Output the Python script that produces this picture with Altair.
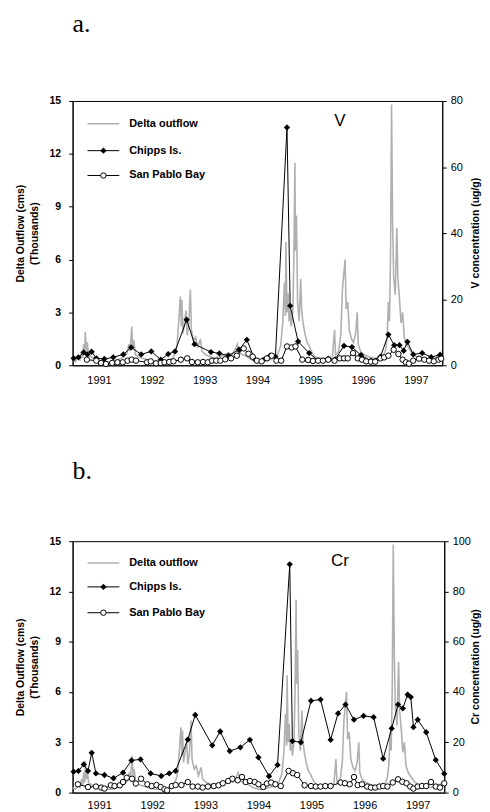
import altair as alt
import pandas as pd

FONT_N = "Liberation Sans, Arial, sans-serif"
FONT_S = "Liberation Serif, Times New Roman, serif"

year_ticks = [1991.5, 1992.5, 1993.5, 1994.5, 1995.5, 1996.5, 1997.5]
flow_ticks = [0, 3, 6, 9, 12, 15]
v_ticks = [0, 20, 40, 60, 80]
cr_ticks = [0, 20, 40, 60, 80, 100]
legend_labels = ["Delta outflow", "Chipps Is.", "San Pablo Bay"]

# Delta outflow (thousand cms), decimal year
flow_t = [1991.00, 1991.05, 1991.10, 1991.14, 1991.17, 1991.19, 1991.21, 1991.23, 1991.24, 1991.26,
          1991.28, 1991.30, 1991.34, 1991.40, 1991.47, 1991.55, 1991.65, 1991.75, 1991.85, 1991.92,
          1991.98, 1992.03, 1992.07, 1992.09, 1992.12, 1992.14, 1992.16, 1992.19, 1992.24, 1992.32,
          1992.42, 1992.55, 1992.68, 1992.80, 1992.90, 1992.95, 1992.98, 1993.01, 1993.04, 1993.06,
          1993.07, 1993.09, 1993.12, 1993.15, 1993.17, 1993.20, 1993.23, 1993.25, 1993.29, 1993.33,
          1993.37, 1993.42, 1993.45, 1993.52, 1993.60, 1993.70, 1993.80, 1993.88, 1993.95, 1994.02,
          1994.08, 1994.12, 1994.16, 1994.22, 1994.30, 1994.40, 1994.50, 1994.60, 1994.70, 1994.80,
          1994.88, 1994.94, 1994.98, 1995.01, 1995.03, 1995.04, 1995.06, 1995.08, 1995.10, 1995.12,
          1995.14, 1995.17, 1995.19, 1995.21, 1995.22, 1995.24, 1995.26, 1995.29, 1995.32, 1995.34,
          1995.37, 1995.40, 1995.44, 1995.48, 1995.52, 1995.58, 1995.66, 1995.75, 1995.85, 1995.92,
          1995.96, 1995.98, 1996.04, 1996.08, 1996.11, 1996.13, 1996.16, 1996.18, 1996.21, 1996.24,
          1996.28, 1996.32, 1996.36, 1996.39, 1996.41, 1996.45, 1996.52, 1996.60, 1996.70, 1996.80,
          1996.88, 1996.93, 1996.96, 1996.98, 1997.00, 1997.02, 1997.04, 1997.06, 1997.08, 1997.11,
          1997.14, 1997.16, 1997.19, 1997.22, 1997.25, 1997.28, 1997.32, 1997.38, 1997.45, 1997.55,
          1997.65, 1997.75, 1997.85, 1997.92, 1997.98]
flow_q = [0.3, 0.2, 0.4, 0.3, 0.8, 0.4, 1.2, 0.6, 1.9, 0.8,
          1.3, 0.6, 0.5, 0.4, 0.3, 0.2, 0.2, 0.2, 0.3, 0.4,
          0.5, 0.7, 1.2, 0.8, 2.2, 1.0, 1.4, 0.6, 0.5, 0.4,
          0.3, 0.2, 0.2, 0.3, 0.4, 0.8, 1.2, 2.5, 3.9, 2.2,
          3.7, 1.8, 2.5, 3.1, 1.7, 2.3, 4.3, 2.0, 1.4, 1.6,
          1.0, 1.5, 0.8, 0.6, 0.5, 0.4, 0.5, 0.6, 0.7, 0.6,
          0.9, 1.2, 0.7, 0.6, 0.5, 0.3, 0.2, 0.2, 0.3, 0.4,
          0.6, 1.1, 2.4, 4.7, 2.8, 7.0, 3.0, 4.1, 2.5, 3.2,
          2.2, 3.0, 6.0, 11.5, 6.5, 8.5, 3.6, 2.5, 4.9, 3.0,
          2.3, 1.8, 1.3, 1.1, 0.8, 0.5, 0.4, 0.4, 0.4, 0.5,
          2.0, 0.6, 0.8, 1.8, 4.3, 5.0, 6.0, 3.2, 3.6, 2.0,
          1.5, 1.3, 1.8, 3.0, 1.2, 0.8, 0.6, 0.5, 0.4, 0.4,
          0.5, 0.9, 1.8, 3.6, 2.5, 6.0, 14.8, 8.0, 5.0, 4.0,
          7.8, 4.9, 3.8, 2.4, 3.0, 1.6, 1.2, 0.9, 0.6, 0.4,
          0.3, 0.3, 0.4, 0.5, 0.6]

# Panel a: V (ug/g)
chipps_v_t = [1991.02, 1991.11, 1991.21, 1991.28, 1991.36, 1991.45, 1991.60, 1991.77, 1991.96, 1992.11,
              1992.30, 1992.49, 1992.67, 1992.81, 1992.94, 1993.16, 1993.31, 1993.62, 1993.78, 1993.95,
              1994.15, 1994.30, 1994.45, 1994.61, 1994.74, 1994.84, 1995.06, 1995.12, 1995.27, 1995.48,
              1995.65, 1995.84, 1995.97, 1996.14, 1996.29, 1996.46, 1996.65, 1996.83, 1996.98, 1997.09,
              1997.19, 1997.27, 1997.34, 1997.45, 1997.62, 1997.79, 1997.96]
chipps_v = [2.1, 2.4, 3.9, 3.3, 4.1, 2.1, 1.9, 2.4, 3.3, 5.4,
            3.3, 4.2, 1.7, 3.4, 4.2, 13.8, 6.4, 4.0, 3.6, 2.9,
            4.7, 7.7, 1.8, 1.6, 2.9, 2.6, 72.0, 18.0, 7.2, 3.7,
            1.4, 2.0, 1.8, 5.9, 5.5, 3.1, 1.4, 2.6, 9.3, 6.1,
            6.1, 4.4, 7.1, 3.3, 3.7, 2.5, 3.2]
spb_v_t = [1991.27, 1991.45, 1991.54, 1991.63, 1991.75, 1991.85, 1991.95, 1992.04, 1992.12, 1992.20,
           1992.41, 1992.48, 1992.58, 1992.67, 1992.74, 1992.83, 1992.91, 1993.05, 1993.17, 1993.26,
           1993.37, 1993.47, 1993.56, 1993.64, 1993.72, 1993.80, 1993.89, 1994.00, 1994.11, 1994.24,
           1994.33, 1994.41, 1994.49, 1994.58, 1994.68, 1994.77, 1994.86, 1994.95, 1995.06, 1995.15,
           1995.22, 1995.35, 1995.46, 1995.55, 1995.65, 1995.74, 1995.84, 1995.96, 1996.06, 1996.14,
           1996.21, 1996.31, 1996.40, 1996.48, 1996.56, 1996.65, 1996.73, 1996.83, 1996.90, 1996.98,
           1997.08, 1997.17, 1997.25, 1997.31, 1997.37, 1997.45, 1997.56, 1997.66, 1997.75, 1997.84,
           1997.93, 1997.98]
spb_v = [1.7, 1.4, 0.7, 0.4, 0.7, 0.9, 0.9, 1.4, 1.7, 1.4,
         0.9, 1.2, 0.6, 0.7, 0.9, 1.0, 1.2, 1.7, 2.1, 1.0,
         0.9, 1.0, 0.9, 1.4, 1.4, 1.4, 1.8, 2.1, 2.9, 5.1,
         3.5, 2.6, 1.4, 1.2, 2.1, 2.9, 1.4, 1.4, 5.7, 5.4,
         5.7, 1.7, 1.6, 1.3, 1.4, 1.4, 1.7, 1.4, 2.1, 2.1,
         2.1, 3.7, 2.1, 1.7, 1.2, 1.1, 1.1, 2.1, 2.4, 2.9,
         4.7, 3.4, 1.7, 0.9, 0.5, 1.4, 2.0, 1.7, 1.4, 1.2,
         1.7, 2.0]

# Panel b: Cr (ug/g)
chipps_cr_t = [1991.02, 1991.11, 1991.21, 1991.29, 1991.36, 1991.44, 1991.60, 1991.77, 1991.95, 1992.11,
               1992.28, 1992.47, 1992.67, 1992.82, 1992.94, 1993.17, 1993.31, 1993.63, 1993.78, 1993.96,
               1994.16, 1994.34, 1994.50, 1994.70, 1994.86, 1995.09, 1995.14, 1995.30, 1995.49, 1995.67,
               1995.86, 1996.00, 1996.14, 1996.30, 1996.48, 1996.67, 1996.85, 1997.01, 1997.13, 1997.22,
               1997.31, 1997.37, 1997.42, 1997.50, 1997.66, 1997.84, 1998.00]
chipps_cr = [8.3, 8.6, 11.2, 8.6, 15.8, 7.6, 7.0, 5.7, 7.9, 12.8,
             13.2, 7.6, 6.6, 7.6, 8.6, 21.1, 30.9, 18.8, 24.3, 16.5,
             18.0, 21.0, 14.0, 6.5, 11.0, 90.8, 20.5, 20.0, 36.5, 37.0,
             21.0, 31.5, 35.0, 29.0, 30.5, 30.0, 13.5, 25.5, 35.0, 33.5,
             39.0, 38.0, 26.0, 29.0, 24.0, 13.0, 7.5]
spb_cr_t = [1991.10, 1991.29, 1991.44, 1991.54, 1991.60, 1991.72, 1991.79, 1991.89, 1991.95, 1992.02,
            1992.12, 1992.19, 1992.29, 1992.41, 1992.49, 1992.58, 1992.66, 1992.73, 1992.78, 1992.87,
            1992.94, 1993.05, 1993.17, 1993.26, 1993.36, 1993.45, 1993.55, 1993.66, 1993.75, 1993.83,
            1993.93, 1994.01, 1994.11, 1994.19, 1994.26, 1994.34, 1994.43, 1994.50, 1994.59, 1994.66,
            1994.74, 1994.82, 1994.92, 1995.07, 1995.15, 1995.23, 1995.37, 1995.49, 1995.58, 1995.67,
            1995.76, 1995.86, 1996.05, 1996.13, 1996.22, 1996.30, 1996.37, 1996.45, 1996.55, 1996.62,
            1996.70, 1996.78, 1996.85, 1996.93, 1997.03, 1997.13, 1997.21, 1997.29, 1997.36, 1997.42,
            1997.50, 1997.58, 1997.66, 1997.75, 1997.84, 1997.92, 1998.00]
spb_cr = [3.3, 2.2, 2.4, 2.0, 1.6, 2.9, 2.6, 2.9, 4.2, 5.9,
          5.5, 3.6, 5.5, 3.3, 2.6, 3.0, 2.2, 1.3, 0.9, 2.6,
          3.0, 3.0, 4.2, 2.4, 2.4, 2.0, 2.4, 2.6, 2.9, 3.7,
          4.6, 5.5, 4.9, 6.2, 4.2, 4.6, 4.2, 3.3, 2.2, 3.6,
          4.0, 3.3, 2.6, 8.6, 7.7, 7.0, 2.9, 2.6, 2.4, 2.4,
          2.6, 2.6, 4.0, 3.7, 3.3, 6.2, 3.0, 3.3, 2.4, 2.0,
          2.0, 2.4, 2.6, 2.4, 4.0, 5.3, 4.3, 3.7, 2.4, 1.6,
          2.4, 2.6, 2.6, 4.2, 2.4, 2.0, 3.7]

ONE = pd.DataFrame({"k": [0]})


def legend_layers(rows_y):
    base = alt.Chart(ONE)
    layers = [
        base.mark_rule(color="#b0b0b0", strokeWidth=1.6).encode(
            x=alt.value(15), x2=alt.value(47), y=alt.value(rows_y[0])),
        base.mark_rule(color="black", strokeWidth=1).encode(
            x=alt.value(15), x2=alt.value(47), y=alt.value(rows_y[1])),
        base.mark_point(shape="diamond", filled=True, color="black", size=40, opacity=1).encode(
            x=alt.value(31), y=alt.value(rows_y[1])),
        base.mark_rule(color="black", strokeWidth=1).encode(
            x=alt.value(15), x2=alt.value(47), y=alt.value(rows_y[2])),
        base.mark_point(shape="circle", filled=True, fill="white", stroke="black",
                        strokeWidth=1, size=30, opacity=1).encode(
            x=alt.value(31), y=alt.value(rows_y[2])),
    ]
    for lab, yy in zip(legend_labels, rows_y):
        layers.append(base.mark_text(align="left", baseline="middle", font=FONT_N, fontSize=11,
                                     fontWeight="bold", color="black").encode(
            x=alt.value(57), y=alt.value(yy), text=alt.value(lab)))
    return layers


def build_panel(ch_t, ch_c, sp_t, sp_c, cmax, cvals, elem, rtitle, label, w, h, rows_y, lab_y,
                xlabpad, rt_off):
    flow_df = pd.DataFrame({"t": flow_t, "q": flow_q})
    ch_df = pd.DataFrame({"t": ch_t, "c": ch_c})
    sp_df = pd.DataFrame({"t": sp_t, "c": sp_c})
    xenc = alt.X("t:Q", scale=alt.Scale(domain=[1991, 1998], nice=False, zero=False),
                 axis=alt.Axis(values=year_ticks, labelExpr="floor(datum.value)", ticks=False,
                               grid=False, title=None, domainColor="black", labelFont=FONT_N,
                               labelFontSize=11, labelColor="black", labelPadding=xlabpad))
    flow = alt.Chart(flow_df).mark_line(color="#b0b0b0", strokeWidth=1.6, clip=True).encode(
        x=xenc,
        y=alt.Y("q:Q", scale=alt.Scale(domain=[0, 15], nice=False),
                axis=alt.Axis(values=flow_ticks, grid=False,
                              title=["Delta Outflow (cms)", "(Thousands)"],
                              titleFont=FONT_N, titleFontSize=10.5, titleFontWeight="bold",
                              titleColor="black", titleLineHeight=14, titlePadding=10,
                              labelFont=FONT_N, labelFontWeight="bold", labelFontSize=10.5,
                              labelColor="black", tickSize=4, tickColor="black",
                              labelPadding=8, domainColor="black")))
    yr = alt.Y("c:Q", scale=alt.Scale(domain=[0, cmax], nice=False),
               axis=alt.Axis(orient="right", values=cvals, grid=False, title=None,
                             labelFont=FONT_N, labelFontSize=11, labelColor="black",
                             tickSize=4, tickColor="black", labelPadding=4,
                             domainColor="black"))
    ch_line = alt.Chart(ch_df).mark_line(color="black", strokeWidth=1).encode(x=xenc, y=yr)
    ch_pt = alt.Chart(ch_df).mark_point(shape="diamond", filled=True, color="black", size=40,
                                        opacity=1).encode(x=xenc, y=yr)
    sp_line = alt.Chart(sp_df).mark_line(color="black", strokeWidth=1).encode(x=xenc, y=yr)
    sp_pt = alt.Chart(sp_df).mark_point(shape="circle", filled=True, fill="white", stroke="black",
                                        strokeWidth=1, size=30, opacity=1).encode(x=xenc, y=yr)
    elem_txt = alt.Chart(ONE).mark_text(
        align="center", baseline="middle", font=FONT_N, fontSize=17, color="black").encode(
        x=alt.value(269), y=alt.value(20), text=alt.value(elem))
    rtitle_txt = alt.Chart(ONE).mark_text(
        align="center", baseline="middle", font=FONT_N, fontSize=10.5, fontWeight="bold",
        angle=270, color="black").encode(
        x=alt.value(w + rt_off), y=alt.value(h / 2), text=alt.value(rtitle))
    label_txt = alt.Chart(ONE).mark_text(
        align="left", baseline="top", font=FONT_S, fontSize=26, color="black").encode(
        x=alt.value(0), y=alt.value(lab_y), text=alt.value(label))
    right = alt.layer(ch_line, sp_line, ch_pt, sp_pt, elem_txt, rtitle_txt, label_txt,
                      *legend_layers(rows_y))
    return alt.layer(flow, right).resolve_scale(y="independent").properties(width=w, height=h)


panel_a = build_panel(chipps_v_t, chipps_v, spb_v_t, spb_v, 80, v_ticks, "V",
                      "V concentration (ug/g)", "a.", 372, 266, [23, 50, 75], -90, 9, 34)
panel_b = build_panel(chipps_cr_t, chipps_cr, spb_cr_t, spb_cr, 100, cr_ticks, "Cr",
                      "Cr concentration (ug/g)", "b.", 374, 253, [22, 46, 72], -84, 7, 32)

chart = alt.vconcat(panel_a, panel_b, spacing=71).configure_view(
    stroke="black", strokeWidth=1).properties(
    padding={"left": 6, "top": 0, "right": 0, "bottom": 0})

chart.save("out.html", embed_options={"renderer": "svg", "actions": False})
